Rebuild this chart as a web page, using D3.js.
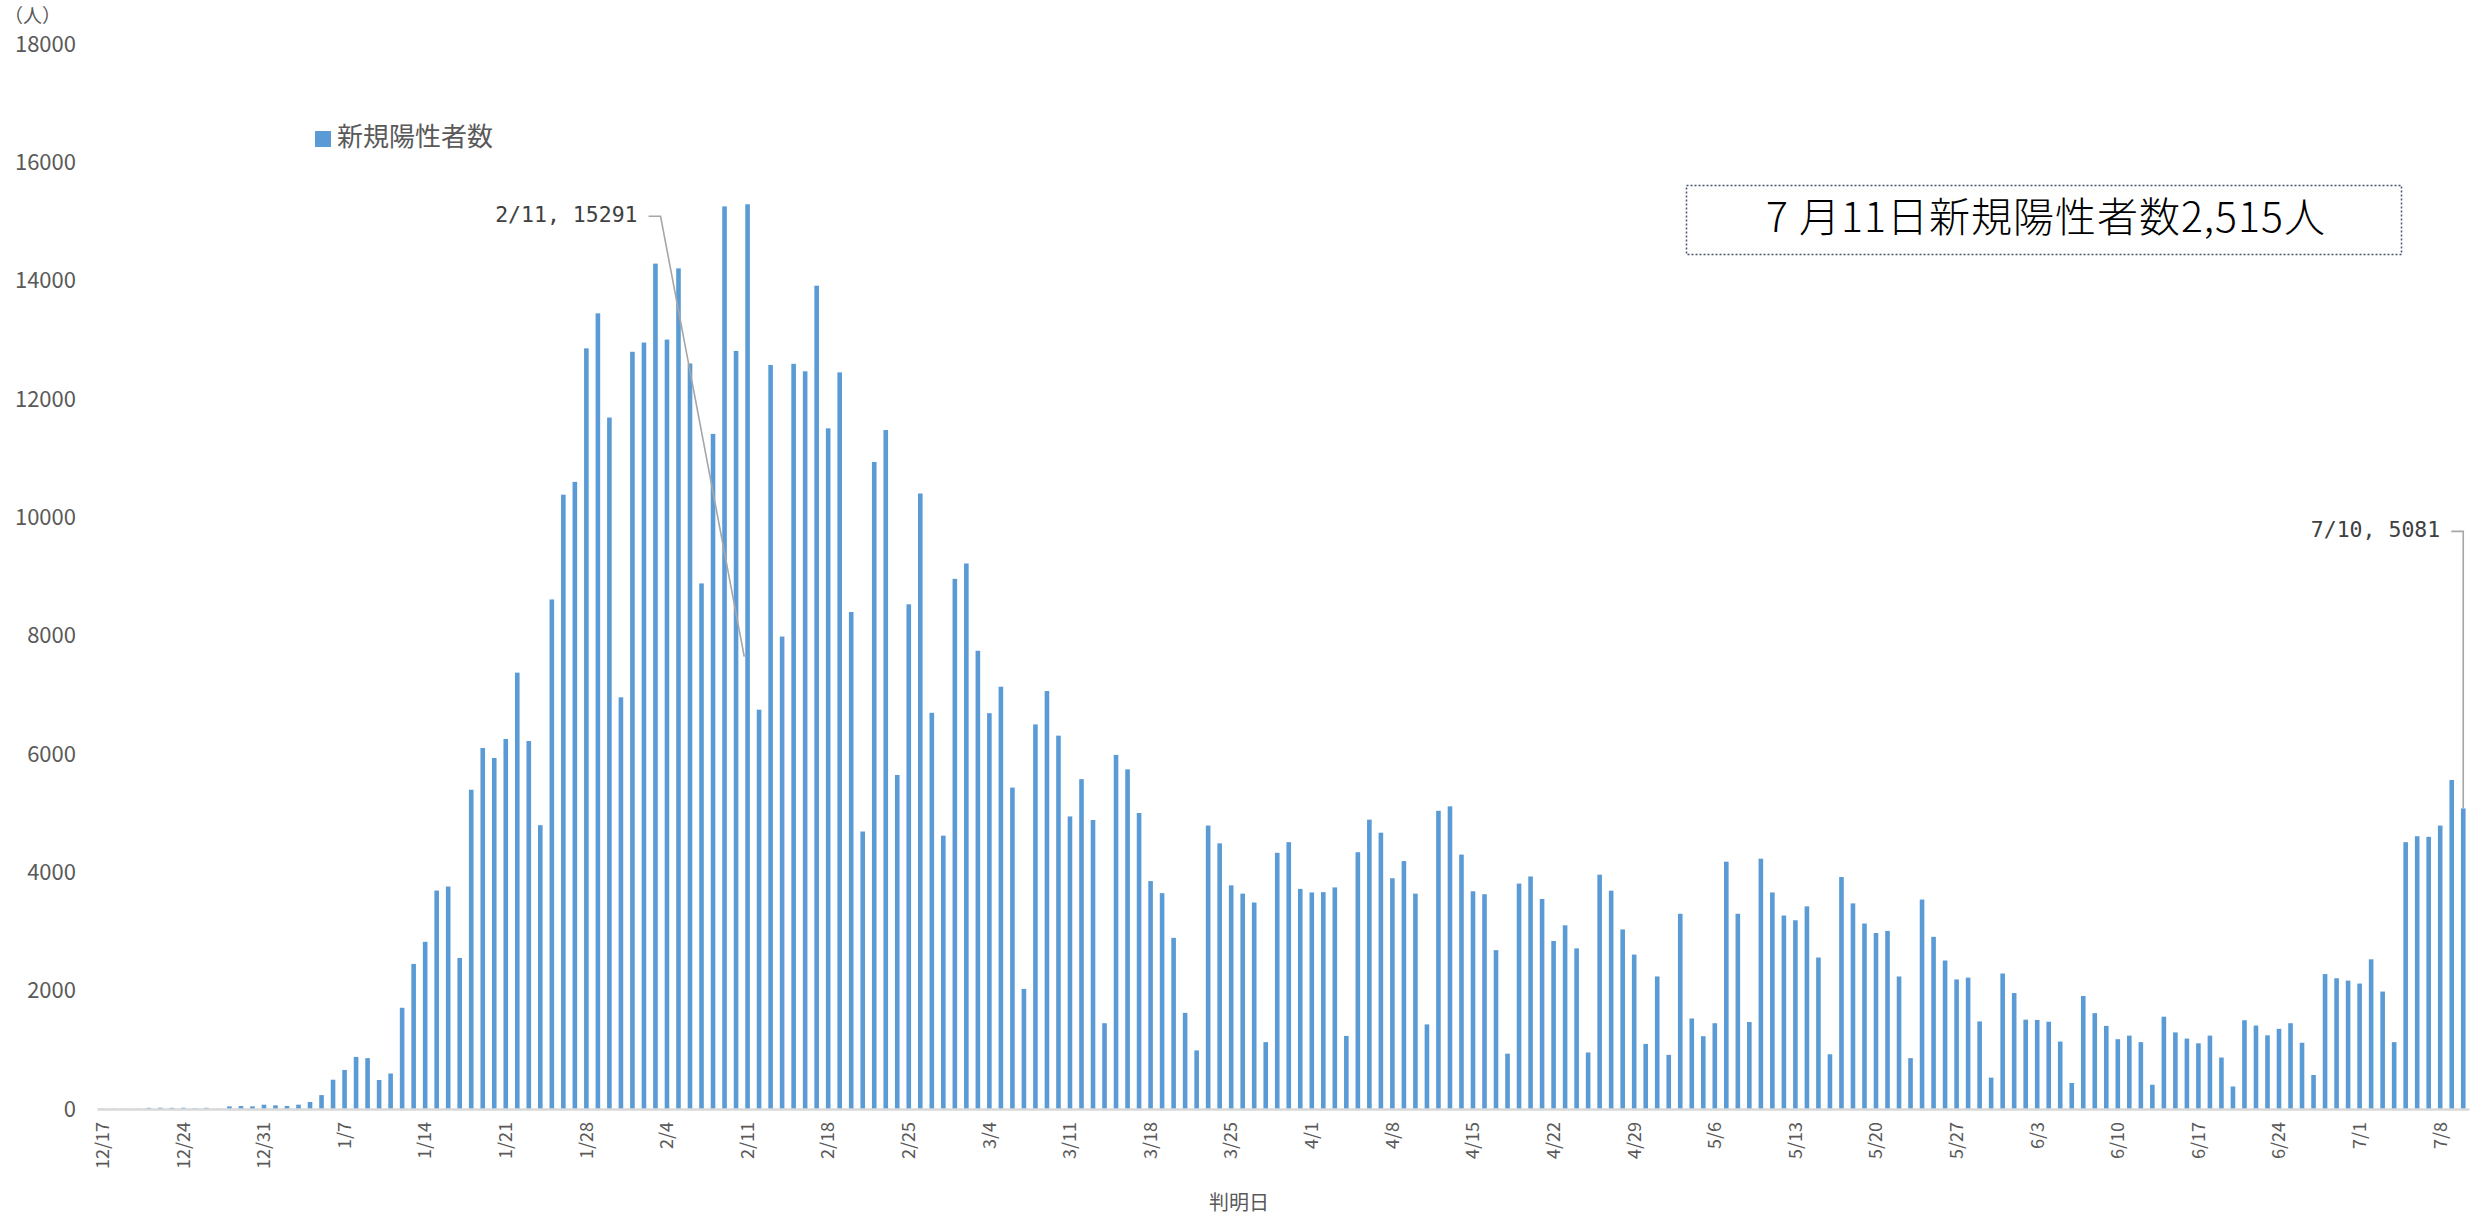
<!DOCTYPE html>
<html>
<head>
<meta charset="utf-8">
<script src="https://cdn.jsdelivr.net/npm/d3@7"></script>
<style>
  html, body { margin: 0; padding: 0; background: #fff; }
  svg { display: block; }
</style>
</head>
<body>
<svg id="chart" width="2481" height="1220"></svg>
<script>
// Daily new positive cases by report date (判明日), 2021-12-17 .. 2022-07-10
const dec = [5, 4, 3, 5, 20, 22, 20, 21, 12, 20, 6, 45, 50, 45, 73];
const jan = [62, 51, 73, 118, 235, 495, 660, 880, 860, 490, 600, 1711, 2452, 2826, 3692, 3760,
             2552, 5396, 6101, 5933, 6254, 7375, 6219, 4797, 8612, 10383, 10599, 12856, 13448,
             11687, 6958];
const feb = [12798, 12954, 14288, 13004, 14208, 12600, 8883, 11410, 15255, 12813, 15291, 6749,
             12575, 7985, 12595, 12468, 13915, 11504, 12450, 8400, 4690, 10936, 11475, 5645,
             8530, 10403, 6696, 4620];
const mar = [8960, 9220, 7745, 6690, 7137, 5432, 2030, 6500, 7064, 6310, 4945, 5575, 4885, 1450,
             5985, 5740, 5003, 3852, 3648, 2893, 1625, 990, 4790, 4490, 3780, 3640, 3490, 1130,
             4330, 4510, 3720];
const apr = [3660, 3665, 3745, 1235, 4340, 4890, 4670, 3900, 4190, 3640, 1430, 5040, 5115, 4300,
             3680, 3630, 2685, 935, 3810, 3930, 3550, 2840, 3105, 2715, 955, 3960, 3690, 3035,
             2610, 1100];
const may = [2240, 915, 3300, 1530, 1230, 1450, 4180, 3300, 1470, 4230, 3660, 3270, 3190, 3425,
             2560, 925, 3920, 3475, 3135, 2975, 3010, 2240, 860, 3540, 2910, 2510, 2190, 2220,
             1480, 530, 2290];
const jun = [1960, 1510, 1505, 1475, 1140, 440, 1910, 1620, 1405, 1180, 1240, 1130, 410, 1560,
             1295, 1190, 1110, 1240, 870, 380, 1500, 1410, 1245, 1355, 1450, 1120, 575, 2280,
             2210, 2170];
const jul = [2120, 2530, 1985, 1130, 4510, 4610, 4600, 4790, 5560, 5081];

const firstDay = new Date(2021, 11, 17);
const lastDay = new Date(2022, 6, 10);

const tickLabels = ["12/17", "12/24", "12/31", "1/7", "1/14", "1/21", "1/28", "2/4", "2/11",
  "2/18", "2/25", "3/4", "3/11", "3/18", "3/25", "4/1", "4/8", "4/15", "4/22", "4/29", "5/6",
  "5/13", "5/20", "5/27", "6/3", "6/10", "6/17", "6/24", "7/1", "7/8"];
const yTicks = [0, 2000, 4000, 6000, 8000, 10000, 12000, 14000, 16000, 18000];

const seriesName = "新規陽性者数";
const yUnit = "（人）";
const xTitle = "判明日";
const noteText = "7 月11日新規陽性者数2,515人";
const calloutDays = ["2/11", "7/10"];

// ---- assemble rows ----
const fmtMD = d3.timeFormat("%-m/%-d");
const days = d3.timeDay.range(firstDay, d3.timeDay.offset(lastDay, 1)).map(fmtMD);
const values = [].concat(dec, jan, feb, mar, apr, may, jun, jul);
const rows = days.map((d, i) => ({ day: d, value: values[i] }));

// ---- layout ----
const W = 2481, H = 1220;
const plot = { left: 97, right: 2469, top: 44, bottom: 1109 };
const sans = "'Noto Sans CJK JP', 'Noto Sans', sans-serif";
const mono = "'DejaVu Sans Mono', 'Liberation Mono', monospace";
const grey = "#595959";
const barColor = "#5b9bd5";

const svg = d3.select("#chart");

const x = d3.scaleBand()
  .domain(days)
  .range([plot.left, plot.right])
  .paddingInner(0.6)
  .paddingOuter(0.3);

const y = d3.scaleLinear()
  .domain([0, 18000])
  .range([plot.bottom, plot.top]);

// ---- y axis (labels only) ----
const yAxis = svg.append("g")
  .attr("transform", `translate(${plot.left - 17},0)`)
  .call(d3.axisLeft(y).tickValues(yTicks).tickSize(0).tickPadding(4).tickFormat(d3.format("d")));
yAxis.select(".domain").remove();
yAxis.selectAll("text")
  .attr("fill", grey)
  .style("font-family", sans)
  .style("font-size", "22px");

svg.append("text")
  .attr("x", 4)
  .attr("y", 18)
  .attr("dominant-baseline", "middle")
  .attr("fill", grey)
  .style("font-family", sans)
  .style("font-size", "19px")
  .text(yUnit);

// ---- bars ----
svg.append("g")
  .selectAll("rect")
  .data(rows)
  .join("rect")
  .attr("x", d => x(d.day))
  .attr("width", x.bandwidth())
  .attr("y", d => y(d.value))
  .attr("height", d => y(0) - y(d.value))
  .attr("fill", barColor);

// ---- x axis ----
const xAxis = svg.append("g")
  .attr("transform", `translate(0,${plot.bottom})`)
  .call(d3.axisBottom(x).tickValues(tickLabels).tickSize(0).tickSizeOuter(0));
xAxis.select(".domain")
  .attr("stroke", "#d9d9d9")
  .attr("stroke-width", 2.5);
xAxis.selectAll("text")
  .attr("x", 0)
  .attr("y", 0)
  .attr("dy", "0.35em")
  .attr("text-anchor", "end")
  .attr("transform", "translate(0,13) rotate(-90)")
  .attr("fill", grey)
  .style("font-family", sans)
  .style("font-size", "18px");

svg.append("text")
  .attr("x", 1239)
  .attr("y", 1205)
  .attr("text-anchor", "middle")
  .attr("dominant-baseline", "middle")
  .attr("fill", grey)
  .style("font-family", sans)
  .style("font-size", "20px")
  .text(xTitle);

// ---- legend ----
const legend = svg.append("g").attr("transform", "translate(315,131)");
legend.append("rect").attr("width", 16).attr("height", 16).attr("fill", barColor);
legend.append("text")
  .attr("x", 22)
  .attr("y", 8)
  .attr("dominant-baseline", "middle")
  .attr("fill", grey)
  .style("font-family", sans)
  .style("font-size", "26px")
  .text(seriesName);

// ---- data callouts with leader lines ----
const byDay = new Map(rows.map(r => [r.day, r]));
const callouts = [
  { row: byDay.get(calloutDays[0]), dx: -110, dy: 12, end: "side" },
  { row: byDay.get(calloutDays[1]), dx: -23, dy: -277, end: "top" }
];
const callG = svg.append("g");
callouts.forEach(c => {
  const cx = x(c.row.day) + x.bandwidth() / 2;
  const top = y(c.row.value);
  const lx = cx + c.dx, ly = top + c.dy;
  callG.append("text")
    .attr("x", lx)
    .attr("y", ly)
    .attr("text-anchor", "end")
    .attr("dominant-baseline", "middle")
    .attr("fill", "#404040")
    .style("font-family", mono)
    .style("font-size", "21.5px")
    .text(`${c.row.day}, ${c.row.value}`);
  const tip = c.end === "side"
    ? [x(c.row.day) - 1, y(c.row.value / 2)]
    : [cx, top];
  const pts = [[lx + 11, ly], [lx + 23, ly], tip];
  callG.append("path")
    .attr("d", d3.line()(pts))
    .attr("fill", "none")
    .attr("stroke", "#a6a6a6")
    .attr("stroke-width", 1.6);
});

// ---- note box ----
const note = svg.append("g").attr("transform", "translate(1686,185)");
note.append("rect")
  .attr("x", 0.5).attr("y", 0.5)
  .attr("width", 715).attr("height", 69)
  .attr("fill", "#fff")
  .attr("stroke", "#44546a")
  .attr("stroke-width", 1.5)
  .attr("stroke-dasharray", "2,2");
note.append("text")
  .attr("x", 360)
  .attr("y", 36)
  .attr("text-anchor", "middle")
  .attr("dominant-baseline", "middle")
  .attr("fill", "#000")
  .style("font-family", sans)
  .style("font-size", "41px")
  .style("font-weight", 300)
  .style("letter-spacing", "1px")
  .text(noteText);
</script>
</body>
</html>
